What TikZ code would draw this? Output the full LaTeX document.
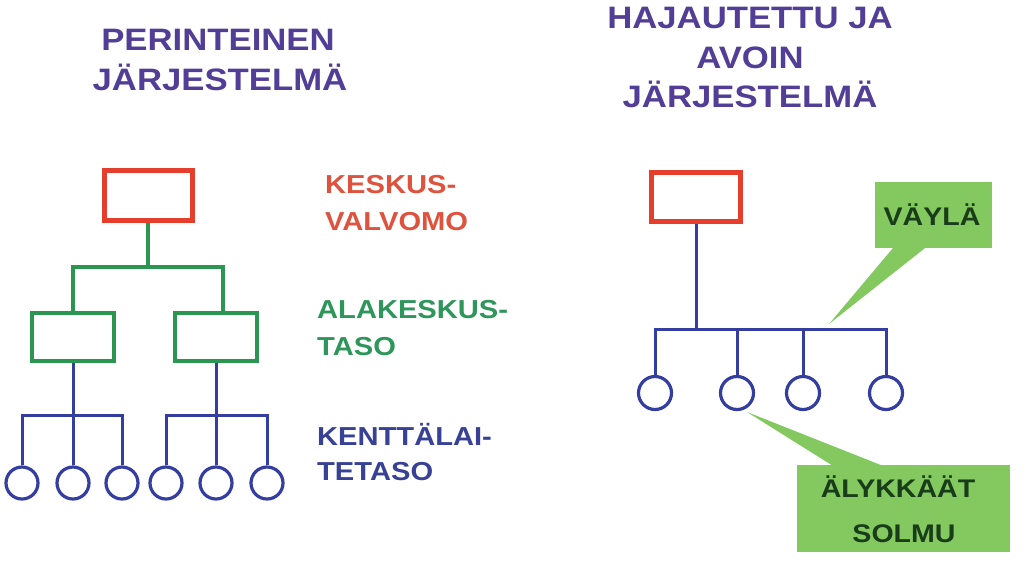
\documentclass[tikz,border=0pt]{standalone}
\usepackage{fontspec}
\newfontfamily\labfont[FakeStretch=1.12]{Liberation Sans}
\definecolor{titlec}{RGB}{82,62,150}
\definecolor{redl}{RGB}{222,82,62}
\definecolor{greenl}{RGB}{46,150,90}
\definecolor{bluel}{RGB}{55,65,150}
\definecolor{redline}{RGB}{230,62,45}
\definecolor{greenline}{RGB}{42,150,82}
\definecolor{blueline}{RGB}{52,62,160}
\definecolor{callfill}{RGB}{132,200,96}
\definecolor{calltext}{RGB}{25,60,25}
\begin{document}
\begin{tikzpicture}[x=1pt,y=-1pt,
  redbox/.style={draw=redline,line width=5pt,minimum width=88pt,minimum height=50pt,inner sep=0pt},
  greenbox/.style={draw=greenline,line width=3.2pt,minimum width=82pt,minimum height=48pt,inner sep=0pt},
  fieldnode/.style={circle,draw=blueline,line width=3.2pt,minimum size=32pt,inner sep=0pt},
  gline/.style={draw=greenline,line width=3.2pt},
  bline/.style={draw=blueline,line width=3pt},
  titletext/.style={text=titlec,font=\labfont\bfseries\fontsize{31}{31}\selectfont,inner sep=0pt,anchor=base},
  sidetext/.style={font=\labfont\bfseries\fontsize{26}{26}\selectfont,inner sep=0pt,anchor=base west},
  callout/.style={fill=callfill,text=calltext,font=\labfont\bfseries\fontsize{25.5}{25.5}\selectfont,inner sep=0pt},
  calltail/.style={fill=callfill,draw=none}]
\useasboundingbox (0,0) rectangle (1024,568);
% titles
\node[titletext] (t1a) at (218,50) {PERINTEINEN};
\node[titletext] (t1b) at (220,90) {JÄRJESTELMÄ};
\node[titletext] (t2a) at (750,28) {HAJAUTETTU JA};
\node[titletext] (t2b) at (750,68) {AVOIN};
\node[titletext] (t2c) at (750,107) {JÄRJESTELMÄ};
% side labels
\node[sidetext,text=redl] (l1a) at (325,193) {KESKUS-};
\node[sidetext,text=redl] (l1b) at (325,230) {VALVOMO};
\node[sidetext,text=greenl] (l2a) at (317,318) {ALAKESKUS-};
\node[sidetext,text=greenl] (l2b) at (317,355) {TASO};
\node[sidetext,text=bluel] (l3a) at (317,445) {KENTTÄLAI-};
\node[sidetext,text=bluel] (l3b) at (317,480) {TETASO};
% left hierarchy
\node[redbox] (top) at (148,195) {};
\node[greenbox] (g1) at (73,337) {};
\node[greenbox] (g2) at (216,337) {};
\foreach \i/\x in {1/22,2/73,3/122,4/166,5/216,6/267}
  \node[fieldnode] (c\i) at (\x,483) {};
\coordinate (gbus) at (148,267);
\draw[gline] (top.south) -- (gbus);
\draw[gline] (g1.north) |- (gbus) -| ([xshift=7pt]g2.north);
\coordinate (bbus1) at (73,415);
\coordinate (bbus2) at (216,415);
\draw[bline] (g1.south) -- (c2.north);
\draw[bline] (c1.north) |- (bbus1) -| (c3.north);
\draw[bline] (g2.south) -- (c5.north);
\draw[bline] (c4.north) |- (bbus2) -| (c6.north);
% right bus system
\node[redbox,minimum width=89pt,minimum height=49pt] (rtop) at (696,197) {};
\foreach \i/\x in {1/655,2/737,3/803,4/886}
  \node[fieldnode,minimum size=33pt] (r\i) at (\x,393) {};
\coordinate (rbus) at (696,329);
\draw[bline] (rtop.south) -- (rbus);
\draw[bline] (r1.north) |- (rbus) -| (r4.north);
\draw[bline] (r2.north) -- (r2.north |- rbus);
\draw[bline] (r3.north) -- (r3.north |- rbus);
% callouts
\node[callout,minimum width=117pt,minimum height=66pt] (vayla) at (933.5,215) {};
\node[callout,anchor=base] (vaylat) at (932,225) {VÄYLÄ};
\coordinate (vtip) at (829,324);
\fill[calltail] ([xshift=18pt]vayla.south west) -- (vtip) -- ([xshift=50pt]vayla.south west) -- cycle;
\node[callout,minimum width=213pt,minimum height=87pt] (solmu) at (903.5,508.5) {};
\node[callout,anchor=base] (solmut1) at (898,497) {ÄLYKKÄÄT};
\node[callout,anchor=base] (solmut2) at (904,542) {SOLMU};
\coordinate (stip) at (747,412);
\fill[calltail] ([xshift=36pt,yshift=-1pt]solmu.north west) -- (stip) -- ([xshift=86pt,yshift=-1pt]solmu.north west) -- cycle;
\end{tikzpicture}
\end{document}
